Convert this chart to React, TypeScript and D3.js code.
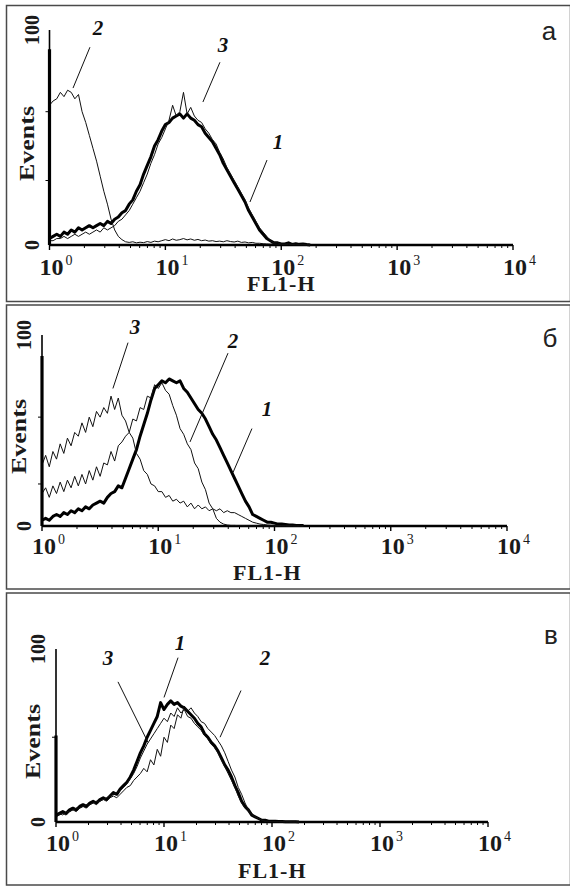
import React from 'react';
import * as d3 from 'd3';

// histogram bins: every bin spans 1/32 of a decade, starting at 10^0
const BIN_DECADES = 1 / 32;
const X_DOMAIN: [number, number] = [1, 10000];
const X_MAJOR = [1, 10, 100, 1000, 10000];
const X_MINOR = [2, 3, 4, 5, 6, 7, 8, 9, 20, 30, 40, 50, 60, 70, 80, 90, 200, 300, 400, 500, 600, 700, 800, 900, 2000, 3000, 4000, 5000, 6000, 7000, 8000, 9000];
const Y_DOMAIN: [number, number] = [0, 100];

// panel а
const A_CURVE_1 = [3, 4, 5, 4, 6, 5, 7, 6, 8, 7, 8, 9, 8, 9, 10, 9, 11, 10, 12, 13, 15, 16, 19, 21, 25, 28, 33, 37, 41, 46, 49, 53, 56, 57, 59, 60, 61, 59, 61, 59, 58, 56, 55, 52, 50, 48, 45, 42, 38, 35, 32, 29, 26, 23, 20, 16, 13, 10, 7, 5, 3, 2, 1, 1, 0.5, 0.5, 1, 0.3, 0.6, 0.3, 0.5, 0.2, 0];
const A_CURVE_2 = [65, 67, 68, 71, 69, 72, 71, 68, 70, 62, 57, 51, 45, 39, 32, 25, 19, 12, 7, 4, 2.5, 1.5, 1.2, 1.5, 1, 1.3, 1.1, 1.6, 1.2, 1.8, 1.5, 2, 2.5, 2, 2.8, 2.2, 2.5, 3, 2.4, 2.8, 2.2, 2.6, 2, 2.3, 1.8, 2, 1.6, 1.8, 1.5, 2, 1.6, 1.4, 1.8, 1.2, 1.4, 1, 1.2, 0.8, 0.8, 0.6, 0.5, 0.4, 0.5, 0.3, 0.4, 0.2, 0.3, 0.2, 0.1, 0.1, 0, 0, 0];
const A_CURVE_3 = [2, 2, 3, 3, 4, 3, 4, 5, 4, 5, 6, 5, 6, 7, 6, 8, 7, 8, 9, 11, 12, 14, 16, 19, 22, 25, 29, 33, 38, 42, 47, 50, 54, 58, 65, 60, 62, 71, 61, 64, 60, 58, 57, 54, 52, 49, 47, 43, 40, 36, 33, 30, 27, 24, 21, 17, 14, 11, 8, 6, 4, 2, 1, 1, 0.5, 0.4, 0.6, 0.3, 0.4, 0.2, 0.3, 0.1, 0];
const A_Y_TICKS = [30, 62];

// panel б
const B_CURVE_1 = [3, 4, 3, 5, 6, 5, 7, 6, 8, 7, 9, 8, 10, 9, 11, 12, 13, 12, 15, 17, 18, 21, 20, 25, 30, 35, 40, 47, 53, 59, 66, 72, 74, 76, 75, 77, 76, 75, 76, 72, 70, 67, 64, 61, 59, 56, 52, 48, 45, 41, 37, 33, 29, 25, 21, 17, 13, 10, 6, 5, 4, 3, 2, 2, 1.5, 1, 1, 0.8, 0.5, 0.5, 0.3, 0.3, 0.2];
const B_CURVE_2 = [17, 20, 15, 21, 17, 23, 18, 24, 20, 26, 21, 27, 22, 29, 24, 31, 26, 33, 32, 39, 34, 42, 44, 47, 49, 56, 55, 62, 61, 68, 67, 74, 72, 75, 71, 69, 63, 58, 51, 48, 43, 40, 33, 30, 23, 19, 12, 9, 4, 2, 1, 0.5, 0.3, 0.3, 0.2, 0.2, 0.1, 0.1, 0, 0, 0, 0, 0, 0, 0, 0, 0, 0, 0, 0, 0, 0, 0];
const B_CURVE_3 = [32, 37, 31, 39, 35, 43, 38, 46, 42, 49, 47, 54, 49, 57, 52, 60, 57, 62, 59, 68, 61, 67, 58, 55, 49, 46, 38, 35, 29, 27, 22, 21, 18, 18, 15, 16, 13, 14, 12, 13, 10, 12, 9, 11, 9, 10, 8, 9, 8, 9, 7, 8, 7, 7, 6, 5, 4, 3, 2, 1.5, 1, 0.8, 0.5, 0.4, 0.3, 0.3, 0.2, 0.2, 0.1, 0.1, 0, 0, 0];
const B_Y_TICKS = [22, 57];

// panel в
const C_CURVE_1 = [4, 5, 6, 5, 7, 8, 7, 9, 10, 9, 11, 12, 11, 13, 14, 13, 15, 17, 16, 19, 21, 23, 26, 30, 35, 40, 44, 49, 53, 57, 61, 69, 65, 68, 70, 68, 69, 67, 66, 64, 62, 60, 57, 55, 51, 49, 46, 44, 41, 37, 33, 30, 26, 21, 17, 12, 9, 7, 4, 3, 2, 1, 1, 0.5, 0.5, 0.4, 0.3, 0.3, 0.2, 0.2, 0.1, 0.1, 0];
const C_CURVE_2 = [3, 4, 5, 4, 6, 7, 6, 8, 9, 8, 10, 11, 10, 12, 13, 12, 14, 15, 14, 16, 18, 20, 21, 24, 26, 28, 31, 29, 36, 33, 42, 38, 49, 46, 56, 54, 62, 60, 67, 64, 66, 63, 61, 58, 57, 54, 52, 50, 47, 44, 40, 35, 30, 26, 20, 16, 11, 7, 5, 3, 2, 1, 0.5, 0.4, 0.3, 0.3, 0.2, 0.2, 0.1, 0.1, 0, 0, 0];
const C_CURVE_3 = [3, 5, 4, 6, 6, 7, 8, 8, 9, 10, 10, 11, 12, 12, 13, 14, 15, 16, 17, 18, 20, 22, 25, 28, 32, 37, 41, 45, 48, 51, 54, 57, 60, 58, 63, 61, 66, 63, 65, 61, 60, 57, 55, 53, 50, 48, 45, 43, 40, 36, 32, 28, 24, 20, 15, 11, 8, 6, 4, 3, 2, 1, 0.5, 0.4, 0.3, 0.3, 0.2, 0.2, 0.1, 0.1, 0, 0, 0];
const C_Y_TICKS = [49];

// events piled up in the first channel (10^0), per panel
const FIRST_CHANNEL_PEAK = [91, 89, 50];

const SERIF = 'Liberation Serif, Tinos, Times New Roman, Times, serif';
const SANS = 'Liberation Sans, Arial, sans-serif';

type Curve = { data: number[]; thick?: boolean };
type Note = { text: string; at: [number, number]; from: [number, number]; to: [number, number] };

// annotation positions are [log10(FL1-H), events]
const PANELS = [
  {
    letter: 'а', box: [6.5, 5.5, 564, 296], x0: 49.5, x1: 513, yBottom: 245, yTop: 30,
    curves: [{ data: A_CURVE_1, thick: true }, { data: A_CURVE_2 }, { data: A_CURVE_3 }] as Curve[],
    yTicks: A_Y_TICKS, peak: FIRST_CHANNEL_PEAK[0], tickBase: 275, title: [247, 291], letterPos: [549, 40],
    notes: [
      { text: '2', at: [0.418, 101], from: [0.349, 92], to: [0.203, 73] },
      { text: '3', at: [1.497, 93], from: [1.471, 85], to: [1.324, 66.5] },
      { text: '1', at: [1.972, 48], from: [1.877, 39.5], to: [1.73, 20] },
    ] as Note[],
  },
  {
    letter: 'б', box: [6.5, 305, 564, 284], x0: 42, x1: 507, yBottom: 526, yTop: 335,
    curves: [{ data: B_CURVE_1, thick: true }, { data: B_CURVE_2 }, { data: B_CURVE_3 }] as Curve[],
    yTicks: B_Y_TICKS, peak: FIRST_CHANNEL_PEAK[1], tickBase: 554, title: [233, 580], letterPos: [550, 347],
    notes: [
      { text: '3', at: [0.8, 104], from: [0.74, 96], to: [0.61, 72] },
      { text: '2', at: [1.643, 97], from: [1.6, 90.5], to: [1.273, 44] },
      { text: '1', at: [1.935, 61], from: [1.806, 51], to: [1.643, 28] },
    ] as Note[],
  },
  {
    letter: 'в', box: [6.5, 593, 564, 292], x0: 56, x1: 488, yBottom: 822, yTop: 649,
    curves: [{ data: C_CURVE_1, thick: true }, { data: C_CURVE_2 }, { data: C_CURVE_3 }] as Curve[],
    yTicks: C_Y_TICKS, peak: FIRST_CHANNEL_PEAK[2], tickBase: 851, title: [238, 878], letterPos: [551, 644],
    notes: [
      { text: '3', at: [0.481, 95], from: [0.574, 81], to: [0.852, 46] },
      { text: '1', at: [1.148, 103.5], from: [1.13, 95], to: [1.0, 72] },
      { text: '2', at: [1.935, 95], from: [1.713, 76], to: [1.519, 49] },
    ] as Note[],
  },
];

function Panel({ p }: { p: (typeof PANELS)[number] }) {
  const x = d3.scaleLog().domain(X_DOMAIN).range([p.x0, p.x1]);
  const y = d3.scaleLinear().domain(Y_DOMAIN).range([p.yBottom, p.yTop]);
  const line = d3
    .line<number>()
    .x((_, i) => x(Math.pow(10, i * BIN_DECADES)))
    .y((v) => y(v));
  const ex = (d: number) => x(Math.pow(10, d));
  const [bx, by, bw, bh] = p.box;
  const midY = (p.yBottom + p.yTop) / 2 + 6;

  return (
    <g>
      <rect x={bx} y={by} width={bw} height={bh} fill="none" stroke="#4a4a4a" strokeWidth={1.5} />

      {/* y axis */}
      <line x1={p.x0} x2={p.x0} y1={y(0)} y2={y(100)} stroke="#000" strokeWidth={1.6} />
      {p.yTicks.map((t) => (
        <line key={t} x1={p.x0 - 4} x2={p.x0} y1={y(t)} y2={y(t)} stroke="#000" strokeWidth={1} />
      ))}

      {/* x axis */}
      <line x1={p.x0} x2={p.x1} y1={y(0)} y2={y(0)} stroke="#000" strokeWidth={2.6} />
      {X_MINOR.map((t) => (
        <line key={t} x1={x(t)} x2={x(t)} y1={y(0)} y2={y(0) + 3} stroke="#000" strokeWidth={1} />
      ))}
      {X_MAJOR.map((t) => (
        <line key={t} x1={x(t)} x2={x(t)} y1={y(0)} y2={y(0) + 5} stroke="#000" strokeWidth={1.4} />
      ))}

      {/* histograms */}
      {p.curves.filter((c) => c.thick).map((c, i) => (
        <path key={'t' + i} d={line(c.data) || ''} fill="none" stroke="#000" strokeWidth={3} strokeLinejoin="round" />
      ))}
      {p.curves.filter((c) => !c.thick).map((c, i) => (
        <path key={'n' + i} d={line(c.data) || ''} fill="none" stroke="#111" strokeWidth={1} />
      ))}
      <line x1={x(1)} x2={x(1)} y1={y(0)} y2={y(p.peak)} stroke="#000" strokeWidth={3.2} />

      {/* curve labels */}
      {p.notes.map((n) => (
        <g key={n.text}>
          <line x1={ex(n.from[0])} y1={y(n.from[1])} x2={ex(n.to[0])} y2={y(n.to[1])} stroke="#111" strokeWidth={1} />
          <text x={ex(n.at[0])} y={y(n.at[1]) + 7} textAnchor="middle" fontFamily={SERIF} fontWeight="bold" fontStyle="italic" fontSize={21} fill="#111">
            {n.text}
          </text>
        </g>
      ))}

      {/* tick labels */}
      {X_MAJOR.map((t, i) => (
        <g key={'l' + t} fontFamily={SERIF} fill="#1a1a1a">
          <text x={x(t) + 2} y={p.tickBase} textAnchor="middle" fontSize={24} fontWeight="bold">10</text>
          <text x={x(t) + 16} y={p.tickBase - 10} fontSize={14}>{i}</text>
        </g>
      ))}
      <text x={p.title[0]} y={p.title[1]} fontFamily={SERIF} fontWeight="bold" fontSize={22} letterSpacing={1} fill="#1a1a1a">FL1-H</text>

      <text transform={`translate(${p.x0 - 11},${y(100)}) rotate(-90)`} textAnchor="middle" fontFamily={SERIF} fontWeight="bold" fontSize={20} fill="#1a1a1a">100</text>
      <text transform={`translate(${p.x0 - 11},${y(0)}) rotate(-90)`} textAnchor="middle" fontFamily={SERIF} fontWeight="bold" fontSize={20} fill="#1a1a1a">0</text>
      <text transform={`translate(${p.x0 - 16},${midY}) rotate(-90)`} textAnchor="middle" fontFamily={SERIF} fontWeight="bold" fontSize={20} textLength={75} lengthAdjust="spacingAndGlyphs" fill="#1a1a1a">Events</text>

      <text x={p.letterPos[0]} y={p.letterPos[1]} textAnchor="middle" fontFamily={SANS} fontSize={26} fill="#222">{p.letter}</text>
    </g>
  );
}

export default function App() {
  return (
    <div style={{ position: 'absolute', left: 0, top: 0 }}>
      <svg width={570} height={886} style={{ display: 'block', background: '#fff' }}>
        {PANELS.map((p) => (
          <Panel key={p.letter} p={p} />
        ))}
      </svg>
    </div>
  );
}
